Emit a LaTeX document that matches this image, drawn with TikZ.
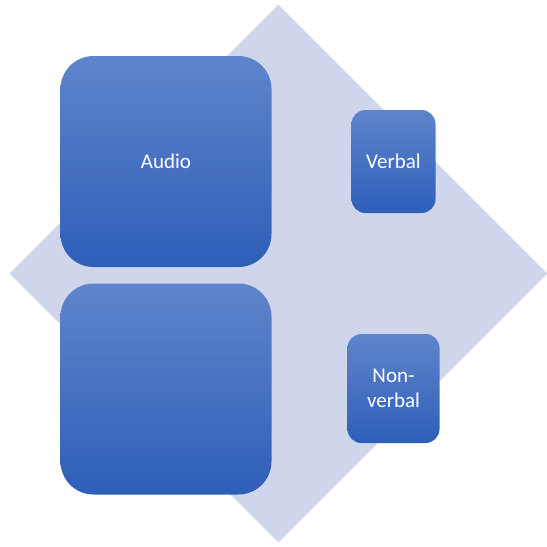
\documentclass[tikz,border=0pt]{standalone}
\usepackage{fontspec}
\setmainfont{Carlito}
\usetikzlibrary{shapes.geometric}

\definecolor{backdrop}{RGB}{207,213,234}
\definecolor{boxtop}{RGB}{95,132,203}
\definecolor{boxmid}{RGB}{70,116,203}
\definecolor{boxbottom}{RGB}{46,95,185}

\begin{document}
\begin{tikzpicture}[
            x=1pt, y=-1pt,
            every node/.style={inner sep=0pt, text=white, font=\fontsize{21}{25}\selectfont},
            block/.style={rounded corners=33pt, top color=boxtop, middle color=boxmid, bottom color=boxbottom, minimum size=211pt},
            tag/.style={rounded corners=14pt, top color=boxtop, middle color=boxmid, bottom color=boxbottom, align=center}
        ]

        \useasboundingbox (0,0) rectangle (547,547);

        % background diamond
        \node[diamond, fill=backdrop, minimum width=538pt, minimum height=538pt, aspect=1] (back) at (278.5,273.5) {};

        % the two big squares on the left
        \node[block] (audio) at (166,161.5) {Audio};
        \node[block] (lower) at (166,389) {};

        % small boxes on the right
        \node[tag, minimum width=84pt, minimum height=103pt] (verbal) at (393.5,161.5) {Verbal};
        \node[tag, minimum width=92pt, minimum height=109pt] (nonverbal) at (393.5,388.5) {Non-\\verbal};

    \end{tikzpicture}
\end{document}
